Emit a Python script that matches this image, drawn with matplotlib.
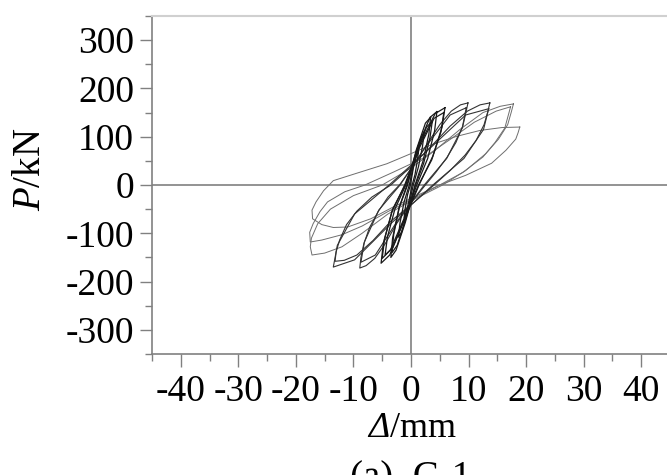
import matplotlib
matplotlib.use('Agg')
import matplotlib.pyplot as plt
from matplotlib.ticker import MultipleLocator

plt.rcParams['font.family'] = ['Liberation Serif', 'DejaVu Serif']
plt.rcParams['axes.unicode_minus'] = False
plt.rcParams['mathtext.fontset'] = 'custom'
plt.rcParams['mathtext.rm'] = 'Liberation Serif'
plt.rcParams['mathtext.it'] = 'Liberation Serif:italic'
plt.rcParams['mathtext.sf'] = 'Liberation Serif:italic'  # for the italic Delta

# hysteresis loops, (displacement mm, load kN)
# each loop: positive peak -> unloading -> negative peak -> reloading -> positive peak
loop_a1 = [(1.3, 70), (1.1, 50), (0.7, 22), (0.2, 0), (-0.4, -35), (-0.9, -60), (-1.2, -68),
           (-1.0, -48), (-0.6, -20), (-0.1, 0), (0.4, 35), (1.0, 62), (1.3, 70)]
loop_a2 = [(2.3, 110), (2.0, 80), (1.3, 38), (0.4, 0), (-0.6, -55), (-1.6, -97), (-2.2, -108),
           (-1.9, -78), (-1.2, -35), (-0.3, 0), (0.7, 55), (1.7, 98), (2.3, 110)]
loop_a3 = [(3.4, 140), (3.1, 105), (2.1, 50), (0.7, 0), (-0.9, -70), (-2.4, -125), (-3.3, -140),
           (-3.0, -102), (-2.0, -45), (-0.6, 0), (0.9, 72), (2.5, 128), (3.4, 140)]
loop_a4 = [(3.7, 132), (3.3, 98), (2.2, 45), (0.8, 0), (-1.0, -78), (-2.6, -135), (-3.5, -150),
           (-3.2, -110), (-2.1, -48), (-0.7, 0), (1.0, 68), (2.7, 120), (3.7, 132)]
loop_b1 = [(4.5, 152), (4.1, 112), (2.9, 55), (1.0, 0), (-1.2, -72), (-3.2, -130), (-4.5, -145),
           (-4.1, -108), (-2.8, -50), (-0.9, 0), (1.2, 80), (3.3, 140), (4.5, 152)]
loop_b2 = [(5.9, 160), (5.4, 120), (3.8, 60), (1.4, 0), (-1.4, -80), (-3.7, -145), (-5.2, -162),
           (-4.8, -120), (-3.3, -55), (-1.1, 0), (1.6, 85), (4.2, 148), (5.9, 160)]
loop_b3 = [(5.7, 150), (5.2, 110), (3.6, 52), (1.3, 0), (-1.3, -72), (-3.6, -135), (-5.0, -152),
           (-4.6, -112), (-3.2, -50), (-1.0, 0), (1.5, 78), (4.0, 138), (5.7, 150)]
loop_c1 = [(9.9, 170), (9.5, 148), (9.0, 122), (7.8, 88), (6.3, 58), (4.3, 26), (2.5, 0),
           (-0.2, -40), (-2.5, -80), (-4.5, -122), (-6.3, -152), (-7.8, -167), (-8.9, -172),
           (-8.7, -150), (-8.2, -122), (-7.2, -88), (-5.7, -55), (-4.0, -25), (-2.0, 0),
           (0.4, 40), (2.8, 85), (5.0, 125), (7.0, 153), (8.6, 166), (9.9, 170)]
loop_c2 = [(9.6, 160), (8.9, 118), (6.2, 55), (2.3, 0), (-2.4, -75), (-6.2, -145), (-8.7, -160),
           (-8.1, -118), (-5.6, -52), (-1.9, 0), (2.6, 80), (6.8, 145), (9.6, 160)]
loop_d1 = [(13.7, 170), (13.3, 150), (12.7, 125), (11.3, 92), (9.4, 62), (6.8, 30), (4.0, 0),
           (0.3, -38), (-3.5, -75), (-6.6, -115), (-9.4, -145), (-11.6, -156), (-13.2, -158),
           (-13.0, -138), (-12.4, -114), (-11.2, -82), (-9.4, -54), (-6.8, -25), (-3.5, 0),
           (0.0, 38), (3.5, 80), (6.8, 122), (9.8, 153), (12.0, 166), (13.7, 170)]
loop_d2 = [(13.5, 158), (12.6, 115), (9.2, 55), (3.8, 0), (-3.5, -80), (-9.8, -155), (-13.5, -170),
           (-12.8, -125), (-9.8, -60), (-3.8, 0), (3.2, 75), (9.5, 145), (13.5, 158)]
loop_e1 = [(17.8, 168), (17.4, 150), (16.8, 125), (15.2, 95), (13.0, 65), (9.5, 30), (5.5, 0),
           (0.5, -30), (-4.0, -60), (-8.5, -100), (-12.0, -128), (-15.0, -141), (-17.2, -145),
           (-17.5, -128), (-17.3, -110), (-16.2, -80), (-14.0, -50), (-10.0, -22), (-5.0, 0),
           (0.0, 35), (4.0, 70), (8.5, 115), (12.5, 150), (15.5, 163), (17.8, 168)]
loop_e2 = [(17.3, 162), (16.8, 140), (16.3, 118), (14.6, 88), (12.5, 58), (9.0, 26), (5.0, 0),
           (0.5, -28), (-4.0, -55), (-8.5, -85), (-12.0, -103), (-15.5, -114), (-17.5, -118),
           (-17.6, -98), (-17.0, -80), (-15.8, -55), (-14.5, -35), (-11.5, -14), (-8.0, 0),
           (-3.0, 27), (2.0, 55), (7.0, 96), (11.0, 130), (14.8, 153), (17.3, 162)]
loop_e3 = [(18.9, 120), (18.6, 108), (18.2, 95), (16.5, 72), (14.0, 45), (9.5, 20), (5.0, 0),
           (1.0, -22), (-3.0, -45), (-7.0, -70), (-11.0, -87), (-13.5, -88), (-15.5, -82),
           (-17.1, -70), (-17.2, -52), (-16.5, -35), (-15.2, -12), (-13.5, 9), (-9.0, 26),
           (-4.2, 44), (0.0, 65), (3.9, 85), (8.0, 101), (12.0, 113), (15.8, 119), (18.9, 120)]

inner_loops = [loop_a1, loop_a2, loop_a3, loop_a4, loop_b1, loop_b2, loop_b3]
middle_loops = [loop_c1, loop_c2, loop_d1, loop_d2]
outer_loops = [loop_e1, loop_e2, loop_e3]

x_ticks = [-40, -30, -20, -10, 0, 10, 20, 30, 40]
y_ticks = [-300, -200, -100, 0, 100, 200, 300]

fig = plt.figure(figsize=(6.67, 4.75), dpi=100)
ax = fig.add_axes([152/667, 121/475, 518/667, 338/475])

ax.axhline(0, color='#808080', lw=1.2, zorder=1)
ax.axvline(0, color='#808080', lw=1.2, zorder=1)

for lp in outer_loops:
    xs, ys = zip(*lp)
    ax.plot(xs, ys, color='#6e6e6e', lw=0.7, zorder=2)
for lp in middle_loops:
    xs, ys = zip(*lp)
    ax.plot(xs, ys, color='#333333', lw=0.8, zorder=3)
for lp in inner_loops:
    xs, ys = zip(*lp)
    ax.plot(xs, ys, color='#1a1a1a', lw=0.9, zorder=4)

ax.set_xlim(-45, 45)
ax.set_ylim(-350, 350)
ax.set_xticks(x_ticks)
ax.set_yticks(y_ticks)
ax.xaxis.set_minor_locator(MultipleLocator(5))
ax.yaxis.set_minor_locator(MultipleLocator(50))
ax.tick_params(which='major', direction='out', length=9, width=1, color='#808080',
               labelsize=27)
ax.tick_params(which='minor', direction='out', length=5, width=1, color='#808080')
ax.tick_params(axis='x', pad=6)
ax.tick_params(axis='y', pad=4)

for s in ['left', 'bottom']:
    ax.spines[s].set_color('#808080')
    ax.spines[s].set_linewidth(1.2)
ax.spines['top'].set_color('#d0d0d0')
ax.spines['top'].set_linewidth(1.5)
ax.spines['right'].set_visible(False)

ax.set_xlabel(r'$\mathsf{Δ}$/mm', fontsize=26, va='center')
ax.xaxis.set_label_coords(0.502, -0.22)
ax.set_ylabel(r'$\mathit{P}$/kN', fontsize=28, va='center')
ax.yaxis.set_label_coords(-0.235, 0.545)

fig.text(411/667, 1 - 460/475, '(a)  C-1', fontsize=28, ha='center', va='top')

fig.savefig('out.png', dpi=100)
